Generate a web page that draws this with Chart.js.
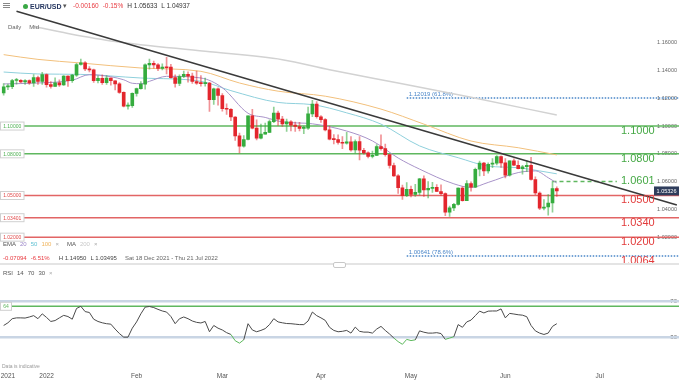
<!DOCTYPE html>
<html>
<head>
<meta charset="utf-8">
<script src="https://cdn.jsdelivr.net/npm/chart.js@4.4.1/dist/chart.umd.min.js"></script>
<style>
html,body{margin:0;padding:0;background:#fff;}
#wrap{position:relative;width:679px;height:380px;overflow:hidden;font-family:"Liberation Sans",Arial,sans-serif;background:#fff;}
#c{position:absolute;left:0;top:0;}
.t{position:absolute;white-space:nowrap;line-height:1;}
.t span{margin-right:4px;}
</style>
</head>
<body>
<div id="wrap">
<canvas id="c" width="679" height="380"></canvas>
<div style="position:absolute;left:3px;top:3px;width:7px;height:1px;background:#888"></div>
<div style="position:absolute;left:3px;top:5px;width:7px;height:1px;background:#888"></div>
<div style="position:absolute;left:3px;top:7px;width:7px;height:1px;background:#888"></div>
<div style="position:absolute;left:23px;top:3.5px;width:5px;height:5px;border-radius:50%;background:#3aa845"></div>
<div class="t" style="left:30px;top:2.5px;font-size:7px;color:#263761;font-weight:600;">EUR/USD</div>
<div class="t" style="left:63px;top:2px;font-size:7px;color:#555;">▾</div>
<div class="t" style="left:73px;top:2.5px;font-size:6.5px;color:#e8393f;"><span>-0.00160</span><span>-0.15%</span><span style="color:#333">H 1.05633</span><span style="color:#333">L 1.04937</span></div>
<div class="t" style="left:8px;top:23.5px;font-size:6px;color:#666;"><span style="margin-right:8px">Daily</span><span>Mid</span></div>

<div class="t" style="left:3px;top:241px;font-size:6px;color:#555;"><span>EMA</span><span style="color:#9b86c9">20</span><span style="color:#5fc0d2">50</span><span style="color:#f0b45c">100</span><span style="color:#aaa;margin-right:8px">×</span><span>MA</span><span style="color:#c8c8c8">200</span><span style="color:#aaa">×</span></div>
<div class="t" style="left:3px;top:255px;font-size:6px;color:#e8393f;"><span>-0.07094</span><span style="margin-right:9px">-6.51%</span><span style="color:#444">H 1.14950</span><span style="color:#444;margin-right:8px">L 1.03495</span><span style="color:#666">Sat 18 Dec 2021 - Thu 21 Jul 2022</span></div>
<div style="position:absolute;left:0;top:263px;width:679px;height:2px;background:#e4e4e4"></div>
<div style="position:absolute;left:333px;top:261.5px;width:11px;height:4px;border:1px solid #c8c8c8;border-radius:2px;background:#fff"></div>
<div class="t" style="left:3px;top:270px;font-size:6px;color:#555;"><span>RSI</span><span>14</span><span>70</span><span>30</span><span style="color:#aaa">×</span></div>
<div class="t" style="left:2px;top:364px;font-size:5px;color:#999;">Data is indicative</div>
</div>
<script>
// ---------- categories (trading days) ----------
const monthDays = [
  ['2021-12',[20,21,22,23,24,27,28,29,30,31]],
  ['2022-01',[3,4,5,6,7,10,11,12,13,14,17,18,19,20,21,24,25,26,27,28,31]],
  ['2022-02',[1,2,3,4,7,8,9,10,11,14,15,16,17,18,21,22,23,24,25,28]],
  ['2022-03',[1,2,3,4,7,8,9,10,11,14,15,16,17,18,21,22,23,24,25,28,29,30,31]],
  ['2022-04',[1,4,5,6,7,8,11,12,13,14,15,18,19,20,21,22,25,26,27,28,29]],
  ['2022-05',[2,3,4,5,6,9,10,11,12,13,16,17,18,19,20,23,24,25,26,27,30,31]],
  ['2022-06',[1,2,3,6,7,8,9,10,13,14,15,16,17,20,21,22,23,24,27,28,29,30]],
  ['2022-07',[1,4,5,6,7,8,11,12,13,14,15,18,19,20,21,22,25,26,27]]
];
const dates = monthDays.flatMap(([m, ds]) => ds.map(d => m + '-' + String(d).padStart(2, '0')));

const xTickDates  = ['2021-12-21','2022-01-03','2022-02-01','2022-03-01','2022-04-01','2022-05-02','2022-06-01','2022-07-01'];
const xTickLabels = ['2021','2022','Feb','Mar','Apr','May','Jun','Jul'];

// ---------- EUR/USD daily OHLC ----------
const opens = [1.1238,1.1282,1.1284,1.1328,1.1329,1.1318,1.1327,1.1310,1.1349,1.1322,
 1.1370,1.1298,1.1286,1.1312,1.1296,1.1359,1.1326,1.1367,1.1443,1.1455,
 1.1411,1.1405,1.1326,1.1344,1.1312,1.1345,1.1326,1.1304,1.1242,1.1144,
 1.1146,1.1235,1.1270,1.1302,1.1440,1.1451,1.1440,1.1415,1.1424,1.1425,
 1.1349,1.1307,1.1357,1.1373,1.1360,1.1321,1.1309,1.1306,1.1309,1.1190,
 1.1268,1.1220,1.1125,1.1121,1.1065,1.0929,1.0856,1.0903,1.1073,1.0985,
 1.0912,1.0942,1.0955,1.1032,1.1093,1.1050,1.1016,1.1030,1.1007,1.0997,
 1.0983,1.0984,1.1088,1.1158,1.1067,1.1046,1.0972,1.0905,1.0902,1.0882,
 1.0876,1.0886,1.0828,1.0889,1.0826,1.0807,1.0781,1.0789,1.0853,1.0837,
 1.0794,1.0716,1.0641,1.0556,1.0499,1.0545,1.0508,1.0523,1.0620,1.0540,
 1.0551,1.0559,1.0529,1.0513,1.0380,1.0411,1.0436,1.0554,1.0463,1.0585,
 1.0560,1.0689,1.0733,1.0677,1.0725,1.0733,1.0780,1.0735,1.0647,1.0750,
 1.0718,1.0694,1.0707,1.0717,1.0615,1.0518,1.0409,1.0417,1.0446,1.0549];
const highs = [1.1306,1.1303,1.1336,1.1343,1.1335,1.1335,1.1332,1.1370,1.1360,1.1386,
 1.1376,1.1320,1.1347,1.1333,1.1364,1.1361,1.1373,1.1452,1.1482,1.1465,
 1.1428,1.1411,1.1362,1.1369,1.1364,1.1348,1.1328,1.1313,1.1247,1.1168,
 1.1240,1.1273,1.1320,1.1448,1.1483,1.1467,1.1450,1.1448,1.1495,1.1444,
 1.1368,1.1368,1.1395,1.1391,1.1382,1.1395,1.1363,1.1346,1.1314,1.1274,
 1.1275,1.1234,1.1160,1.1125,1.1069,1.0950,1.0931,1.1073,1.1121,1.1044,
 1.1014,1.1022,1.1045,1.1137,1.1108,1.1070,1.1050,1.1040,1.1028,1.1027,
 1.0999,1.1137,1.1185,1.1176,1.1076,1.1054,1.1000,1.0938,1.0937,1.0925,
 1.0954,1.0925,1.0900,1.0924,1.0839,1.0815,1.0820,1.0866,1.0936,1.0870,
 1.0794,1.0734,1.0650,1.0575,1.0593,1.0567,1.0580,1.0624,1.0641,1.0600,
 1.0595,1.0578,1.0577,1.0519,1.0423,1.0443,1.0555,1.0564,1.0607,1.0598,
 1.0697,1.0748,1.0738,1.0736,1.0766,1.0787,1.0785,1.0765,1.0750,1.0764,
 1.0750,1.0717,1.0749,1.0774,1.0634,1.0526,1.0470,1.0506,1.0601,1.0563];
const lows = [1.1222,1.1262,1.1270,1.1302,1.1310,1.1300,1.1300,1.1285,1.1300,1.1300,
 1.1280,1.1272,1.1285,1.1285,1.1292,1.1286,1.1315,1.1357,1.1438,1.1398,
 1.1390,1.1315,1.1310,1.1300,1.1300,1.1295,1.1260,1.1235,1.1138,1.1121,
 1.1134,1.1216,1.1265,1.1265,1.1409,1.1417,1.1398,1.1405,1.1376,1.1344,
 1.1280,1.1290,1.1349,1.1316,1.1307,1.1300,1.1287,1.1288,1.1106,1.1156,
 1.1150,1.1107,1.1083,1.1038,1.0897,1.0806,1.0848,1.0900,1.0980,1.0900,
 1.0907,1.0942,1.0952,1.1025,1.1004,1.0998,1.0962,1.0965,1.0962,1.0965,
 1.0945,1.0975,1.1067,1.1056,1.1027,1.0965,1.0900,1.0872,1.0870,1.0837,
 1.0870,1.0820,1.0806,1.0757,1.0797,1.0770,1.0770,1.0786,1.0826,1.0784,
 1.0697,1.0637,1.0515,1.0471,1.0492,1.0490,1.0494,1.0505,1.0493,1.0483,
 1.0522,1.0527,1.0501,1.0354,1.0349,1.0390,1.0430,1.0459,1.0462,1.0532,
 1.0556,1.0641,1.0642,1.0660,1.0700,1.0720,1.0703,1.0627,1.0640,1.0714,
 1.0692,1.0654,1.0672,1.0610,1.0506,1.0398,1.0397,1.0359,1.0380,1.0494];
const closes = [1.1282,1.1284,1.1328,1.1329,1.1318,1.1327,1.1310,1.1349,1.1322,1.1370,
 1.1298,1.1286,1.1312,1.1296,1.1359,1.1326,1.1367,1.1443,1.1455,1.1411,
 1.1405,1.1326,1.1344,1.1312,1.1345,1.1326,1.1304,1.1242,1.1144,1.1146,
 1.1235,1.1270,1.1302,1.1440,1.1451,1.1440,1.1415,1.1424,1.1420,1.1349,
 1.1307,1.1357,1.1373,1.1360,1.1321,1.1309,1.1306,1.1309,1.1190,1.1268,
 1.1220,1.1125,1.1121,1.1065,1.0929,1.0856,1.0903,1.1073,1.0985,1.0912,
 1.0942,1.0955,1.1032,1.1093,1.1050,1.1016,1.1030,1.1007,1.0997,1.0983,
 1.0984,1.1088,1.1158,1.1067,1.1046,1.0972,1.0905,1.0902,1.0882,1.0876,
 1.0886,1.0828,1.0889,1.0826,1.0807,1.0781,1.0789,1.0853,1.0837,1.0794,
 1.0716,1.0641,1.0556,1.0499,1.0545,1.0508,1.0523,1.0620,1.0540,1.0551,
 1.0559,1.0529,1.0513,1.0380,1.0411,1.0436,1.0554,1.0463,1.0585,1.0560,
 1.0689,1.0733,1.0677,1.0725,1.0733,1.0780,1.0735,1.0647,1.0750,1.0718,
 1.0694,1.0707,1.0717,1.0615,1.0518,1.0409,1.0417,1.0446,1.0549,1.0533];

// ---------- moving averages ----------
const ema20Pts = [['2021-12-20',1.1303],['2021-12-30',1.1310],['2022-01-11',1.1330],['2022-01-17',1.1370],
 ['2022-01-24',1.1355],['2022-01-27',1.1333],['2022-01-31',1.1308],['2022-02-02',1.1305],['2022-02-04',1.1322],
 ['2022-02-10',1.1358],['2022-02-22',1.1346],['2022-03-01',1.1276],['2022-03-09',1.1092],['2022-03-15',1.1062],
 ['2022-03-21',1.1030],['2022-03-30',1.1016],['2022-04-11',1.0964],['2022-04-19',1.0893],['2022-04-27',1.0770],
 ['2022-05-04',1.0690],['2022-05-16',1.0584],['2022-05-20',1.0558],['2022-05-26',1.0594],['2022-06-06',1.0665],
 ['2022-06-10',1.0677],['2022-06-15',1.0628],['2022-06-17',1.0590]];
const ema50Pts = [['2021-12-20',1.1389],['2021-12-30',1.1375],['2022-01-13',1.1372],['2022-02-02',1.1346],
 ['2022-02-22',1.1322],['2022-03-03',1.1255],['2022-03-18',1.1170],['2022-03-30',1.1154],['2022-04-11',1.1095],
 ['2022-04-21',1.1014],['2022-05-04',1.0857],['2022-05-17',1.0772],['2022-05-26',1.0712],['2022-06-06',1.0700],
 ['2022-06-13',1.0677],['2022-06-17',1.0656]];
const ema100Pts = [['2021-12-20',1.1514],['2021-12-30',1.1480],['2022-01-13',1.1454],['2022-02-02',1.1418],
 ['2022-02-22',1.1394],['2022-03-07',1.1310],['2022-03-18',1.1251],['2022-04-04',1.1215],['2022-04-21',1.1122],
 ['2022-05-05',1.1014],['2022-05-20',1.0892],['2022-06-06',1.0844],['2022-06-17',1.0792]];
const ma200Pts = [['2021-12-29',1.1717],['2022-01-10',1.1667],['2022-01-25',1.1609],['2022-02-23',1.1538],
 ['2022-03-21',1.1478],['2022-04-05',1.1406],['2022-04-27',1.1310],['2022-05-20',1.1207],['2022-06-17',1.1079]];
const trendPts = [['2021-12-23',1.1827],['2022-07-27',1.0432]];

// ---------- RSI(14) ----------
const rsiValues = [43,46,50.6,51.5,51.5,51.3,52.5,54,50.6,56,
 52,47.5,48.5,51.5,54.3,53,50,62,64.4,58.5,
 57.5,50,47.5,46,45,44.5,39,34,30,30,
 40,47,56,63.5,64.2,63,61,59.2,58,53,
 45,50.5,52.5,50.6,48,46.5,45.8,47.5,36,43,
 40,38,35,33,26,23.3,27,45,38,36,
 37.5,39.5,44,50.6,47,46,45.2,45,44.5,44,
 44,48,58,54,51.5,48.7,41,37.5,36,36.5,
 37.5,34.5,41.2,36.5,35.6,35.6,34.5,39,42,37.5,
 33.5,29,25,22,27.5,26.2,27,37,35.5,34.5,
 34.5,35,34,27.5,29,30.5,44,41,47,49,
 54,59,57,59,59.2,59.2,61.5,51.5,56.5,55.8,
 55,54.5,52.8,43,37,34.5,33,34.5,42,45];
const rsiBands = [70, 30];
const rsiMarker = 64.4;

// ---------- levels ----------
const lastPrice = 1.05326;
const priceTicks = [1.16,1.14,1.12,1.10,1.08,1.06,1.04,1.02];
const srLevels = [1.10, 1.08, 1.05, 1.03401, 1.02];
const fibLevels = [1.12019, 1.00641];
const fibNames = ['61.8%', '78.6%'];
const fibFrom = '2022-04-29';
const dashedLevel = 1.0601;
const dashedSpan = ['2022-06-16', '2022-07-07'];
const bigLabels = [1.10, 1.08, 1.0601, 1.05, 1.034, 1.02, 1.0064];

// ---------- styling / layout constants ----------
const F = '"Liberation Sans", Arial, sans-serif';
const GREEN = '#5fb75f', RED = '#e26565';
const upCol = '#35ac3e', dnCol = '#e3262d';
const priceMax = 1.1896, priceMin = 1.1896 - 366/1395;
const rsiMax = 404.4, rsiMin = -2.2;

const xTickText = {};
xTickDates.forEach((d, i) => { xTickText[d] = xTickLabels[i]; });
const toPts = arr => arr.map(([d, v]) => ({x: d, y: v}));
const isUp = opens.map((o, i) => closes[i] >= o);

const annot = {
  id: 'annot',
  beforeDatasetsDraw(chart) {
    const c = chart.ctx, ys = chart.scales.y, xs = chart.scales.x, rs = chart.scales.yRsi;
    const W = chart.width;
    c.save();
    srLevels.forEach(v => {
      const y = ys.getPixelForValue(v);
      c.strokeStyle = v > lastPrice ? GREEN : RED; c.lineWidth = 1.5;
      c.beginPath(); c.moveTo(24, y); c.lineTo(W, y); c.stroke();
    });
    const fx = xs.getPixelForValue(dates.indexOf(fibFrom));
    fibLevels.forEach((v, i) => {
      const y = ys.getPixelForValue(v);
      c.strokeStyle = '#4a86c8'; c.lineWidth = 1.5; c.setLineDash([1.5, 1.5]);
      c.beginPath(); c.moveTo(fx, y); c.lineTo(W, y); c.stroke();
      c.setLineDash([]);
      c.fillStyle = '#4a86c8'; c.font = '6px ' + F; c.textBaseline = 'bottom'; c.textAlign = 'left';
      c.fillText(v.toFixed(5) + ' (' + fibNames[i] + ')', fx + 2, y - 1);
    });
    {
      const y = ys.getPixelForValue(dashedLevel);
      const x0 = xs.getPixelForValue(dates.indexOf(dashedSpan[0]));
      const x1 = xs.getPixelForValue(dates.indexOf(dashedSpan[1]));
      c.strokeStyle = GREEN; c.lineWidth = 1.5; c.setLineDash([4, 3]);
      c.beginPath(); c.moveTo(x0, y); c.lineTo(x1, y); c.stroke(); c.setLineDash([]);
    }
    rsiBands.forEach(v => {
      const y = rs.getPixelForValue(v);
      c.strokeStyle = '#c9d5e4'; c.lineWidth = 2.5;
      c.beginPath(); c.moveTo(0, y); c.lineTo(W, y); c.stroke();
    });
    {
      const y = rs.getPixelForValue(rsiMarker);
      c.strokeStyle = GREEN; c.lineWidth = 1.5;
      c.beginPath(); c.moveTo(12, y); c.lineTo(W, y); c.stroke();
      c.fillStyle = '#fff'; c.strokeStyle = '#cfcfcf'; c.lineWidth = 1;
      c.fillRect(0.5, y - 4, 11, 8); c.strokeRect(0.5, y - 4, 11, 8);
      c.fillStyle = GREEN; c.font = '5px ' + F; c.textAlign = 'center'; c.textBaseline = 'middle';
      c.fillText(String(Math.floor(rsiMarker)), 6, y + 0.5);
    }
    c.restore();
  },
  afterDatasetsDraw(chart) {
    const c = chart.ctx, ys = chart.scales.y;
    c.save();
    srLevels.forEach(v => {
      const y = ys.getPixelForValue(v);
      c.fillStyle = '#fff'; c.strokeStyle = '#d0d0d0'; c.lineWidth = 1;
      c.fillRect(0.5, y - 4, 23.5, 8); c.strokeRect(0.5, y - 4, 23.5, 8);
      c.fillStyle = v > lastPrice ? '#4caf50' : '#e04848';
      c.font = '5px ' + F; c.textAlign = 'center'; c.textBaseline = 'middle';
      c.fillText(v.toFixed(5), 12.2, y + 0.5);
    });
    bigLabels.forEach(v => {
      const y = ys.getPixelForValue(v);
      const off = (v === dashedLevel) ? -0.5 : 4.8;
      c.fillStyle = v > lastPrice ? '#45a845' : '#e23b3b';
      c.font = '11px ' + F; c.textAlign = 'left'; c.textBaseline = 'middle';
      c.fillText(v.toFixed(4), 621, y + off);
    });
    {
      const y = ys.getPixelForValue(lastPrice);
      c.fillStyle = '#2f3d5c';
      c.fillRect(654, y - 4.5, 25, 9);
      c.fillStyle = '#fff'; c.font = '5.5px ' + F; c.textAlign = 'center'; c.textBaseline = 'middle';
      c.fillText(lastPrice.toFixed(5), 666.5, y + 0.5);
    }
    c.restore();
  }
};

new Chart(document.getElementById('c'), {
  type: 'bar',
  data: {
    labels: dates,
    datasets: [
      {type: 'line', data: toPts(ma200Pts), borderColor: '#d2d2d2', borderWidth: 1.5, pointRadius: 0, cubicInterpolationMode: 'monotone', yAxisID: 'y', order: 6},
      {type: 'line', data: toPts(ema100Pts), borderColor: '#f2c07c', borderWidth: 1, pointRadius: 0, cubicInterpolationMode: 'monotone', yAxisID: 'y', order: 5},
      {type: 'line', data: toPts(ema50Pts), borderColor: '#8fd0dc', borderWidth: 1, pointRadius: 0, cubicInterpolationMode: 'monotone', yAxisID: 'y', order: 4},
      {type: 'line', data: toPts(ema20Pts), borderColor: '#a893c9', borderWidth: 1, pointRadius: 0, cubicInterpolationMode: 'monotone', yAxisID: 'y', order: 3},
      {type: 'bar', data: lows.map((l, i) => [l, highs[i]]), backgroundColor: isUp.map(u => u ? 'rgba(53,172,62,0.55)' : 'rgba(227,38,45,0.5)'), barThickness: 1, grouped: false, yAxisID: 'y', order: 2},
      {type: 'bar', data: opens.map((o, i) => [o, closes[i]]), backgroundColor: isUp.map(u => u ? upCol : dnCol), barThickness: 3, minBarLength: 1, grouped: false, yAxisID: 'y', order: 1},
      {type: 'line', data: toPts(trendPts), borderColor: '#3a3a3a', borderWidth: 1.5, pointRadius: 0, yAxisID: 'y', order: 0},
      {type: 'line', data: rsiValues, borderColor: '#4a4a4a', borderWidth: 1, pointRadius: 0, tension: 0, yAxisID: 'yRsi', order: -1,
        segment: {borderColor: ctx => ((ctx.p0.parsed.y + ctx.p1.parsed.y) / 2 < rsiBands[1] ? '#5cb85c' : '#4a4a4a')}}
    ]
  },
  options: {
    responsive: false,
    maintainAspectRatio: false,
    devicePixelRatio: 1,
    animation: false,
    events: [],
    layout: {padding: {left: 1.5, right: 0, top: 0, bottom: 0}},
    plugins: {legend: {display: false}, tooltip: {enabled: false}},
    scales: {
      x: {
        type: 'category', offset: true,
        grid: {display: false, drawTicks: false}, border: {display: false},
        ticks: {autoSkip: false, maxRotation: 0, minRotation: 0, padding: 6, color: '#555', font: {size: 6.5, family: F},
          callback: v => xTickText[dates[v]] || ''},
        afterFit(s) { s.height = 14; s.paddingLeft = 0; s.paddingRight = 0; }
      },
      y: {
        type: 'linear', axis: 'y', position: 'right', min: priceMin, max: priceMax,
        grid: {display: false, drawTicks: false}, border: {display: false},
        ticks: {mirror: true, padding: -2, color: '#666', font: {size: 5.5, family: F}, callback: v => Number(v).toFixed(5)},
        afterBuildTicks(s) { s.ticks = priceTicks.map(v => ({value: v})); },
        afterFit(s) { s.width = 0; }
      },
      yRsi: {
        type: 'linear', axis: 'y', position: 'right', min: rsiMin, max: rsiMax,
        grid: {display: false, drawTicks: false}, border: {display: false},
        ticks: {mirror: true, padding: -2, color: '#666', font: {size: 6, family: F}, callback: v => String(v)},
        afterBuildTicks(s) { s.ticks = rsiBands.map(v => ({value: v})); },
        afterFit(s) { s.width = 0; }
      }
    }
  },
  plugins: [annot]
});
</script>
</body>
</html>
